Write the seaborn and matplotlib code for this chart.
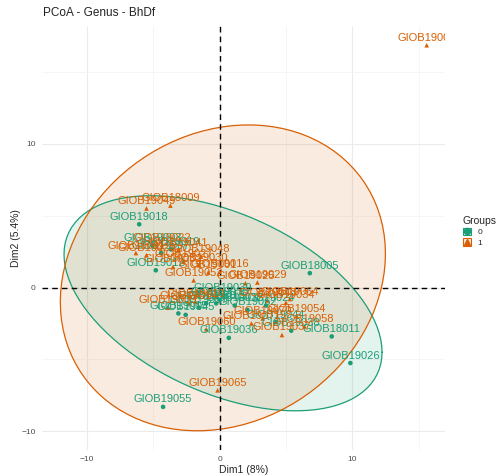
import numpy as np
import pandas as pd
import matplotlib
matplotlib.use("Agg")
import matplotlib.pyplot as plt
import matplotlib.transforms as mtrans
from matplotlib.patches import Patch
from matplotlib.lines import Line2D
from matplotlib.legend_handler import HandlerTuple
from matplotlib.colors import to_rgba
import seaborn as sns

# ---------------- data ----------------
names_g0 = ["GIOB19018", "GIOB18005", "GIOB18011", "GIOB19026", "GIOB19055",
            "GIOB19036", "GIOB19038", "GIOB19044", "GIOB19024", "GIOB19033",
            "GIOB19045", "GIOB19057", "GIOB19035", "GIOB19039", "GIOB19013",
            "GIOB19050", "GIOB19015", "GIOB19062", "GIOB19003", "GIOB19007",
            "GIOB19012", "GIOB19019"]
dim1_g0 = [-6.05, 6.8, 8.45, 9.85, -4.25, 0.7, 5.4, 4.25, 3.5, 1.15,
           -2.55, -1.55, 0.0, 0.25, -0.25, -1.0, -3.1, 2.1, -5.05, -4.4,
           -4.8, -3.65]
dim2_g0 = [4.4, 1.0, -3.4, -5.25, -8.3, -3.5, -3.0, -2.4, -1.25, -1.25,
           -1.9, -1.4, -0.85, -0.55, -1.1, -1.1, -1.8, -1.55, 2.9, 2.4,
           1.2, 2.65]

names_g1 = ["GIOB19006", "GIOB18009", "GIOB19049", "GIOB19022", "GIOB19041",
            "GIOB19048", "GIOB19020", "GIOB19027", "GIOB19030", "GIOB19001",
            "GIOB19052", "GIOB19025", "GIOB19029", "GIOB19016", "GIOB19032",
            "GIOB19010", "GIOB19060", "GIOB19065", "GIOB19034", "GIOB19070",
            "GIOB19037", "GIOB19054", "GIOB19014", "GIOB19009", "GIOB19064",
            "GIOB19043", "GIOB19071", "GIOB19058", "GIOB19011"]
dim1_g1 = [15.6, -3.7, -5.5, -4.35, -3.1, -1.4, -5.5, -2.7, -1.55, -0.85,
           -1.95, 1.95, 2.85, 0.0, -3.5, -1.8, -1.0, -0.15, 5.0, 3.25,
           4.7, 5.8, -2.3, -3.9, 5.3, 3.6, 2.4, 6.4, -6.3]
dim2_g1 = [16.85, 5.7, 5.5, 2.95, 2.6, 2.15, 2.25, 1.8, 1.55, 1.05,
           0.5, 0.3, 0.35, 1.1, 1.45, -1.0, -2.9, -7.15, -1.05, -2.15,
           -3.3, -2.0, -1.1, -1.4, -0.8, -0.9, -2.5, -2.7, 2.4]

groups = ["0", "1"]
title = "PCoA - Genus - BhDf"
xlabel = "Dim1 (8%)"
ylabel = "Dim2 (5.4%)"
x_ticks = [-10, 0, 10]
y_ticks = [-10, 0, 10]

palette = {"0": "#1B9E77", "1": "#D95F02"}
markers = {"0": "o", "1": "^"}

df = pd.DataFrame({
    "name": names_g0 + names_g1,
    "Dim1": dim1_g0 + dim1_g1,
    "Dim2": dim2_g0 + dim2_g1,
    "Groups": [groups[0]] * len(names_g0) + [groups[1]] * len(names_g1),
})


def norm_ellipse(x, y, level=0.95, segments=101):
    """Same construction as ggplot2 stat_ellipse(type='norm')."""
    d = np.column_stack([x, y])
    n = len(d)
    center = d.mean(axis=0)
    cov = np.cov(d.T)
    chol = np.linalg.cholesky(cov).T
    dfd = n - 1
    qf = dfd / 2.0 * ((1 - level) ** (-2.0 / dfd) - 1)   # F(2, dfd) quantile
    radius = np.sqrt(2 * qf)
    th = np.linspace(0, 2 * np.pi, segments)
    unit = np.column_stack([np.cos(th), np.sin(th)])
    return center + radius * unit @ chol


# ---------------- figure ----------------
sns.set_style("white")
plt.rcParams["font.family"] = ["Liberation Sans", "DejaVu Sans"]

W, H = 497, 476
fig = plt.figure(figsize=(W / 100, H / 100), dpi=100)
ax = fig.add_axes([42 / W, 1 - 450 / H, 403 / W, 424 / H])

ells = {}
for g in groups:
    sub = df[df.Groups == g]
    ells[g] = norm_ellipse(sub.Dim1.values, sub.Dim2.values)

for g in groups:
    e = ells[g]
    ax.fill(e[:, 0], e[:, 1], color=palette[g], alpha=0.12, lw=0, zorder=1)
    ax.plot(e[:, 0], e[:, 1], color=palette[g], lw=0.9, zorder=2)

# axis limits from data + ellipses with 5% expansion (as ggplot does)
allx = np.concatenate([df.Dim1.values] + [ells[g][:, 0] for g in groups])
ally = np.concatenate([df.Dim2.values] + [ells[g][:, 1] for g in groups])
rx = allx.max() - allx.min()
ry = ally.max() - ally.min()
ax.set_xlim(allx.min() - 0.05 * rx, allx.max() + 0.05 * rx)
ax.set_ylim(ally.min() - 0.05 * ry, ally.max() + 0.05 * ry)

ax.axhline(0, color="black", lw=1.0, ls=(0, (4, 3)), zorder=2.5)
ax.axvline(0, color="black", lw=1.0, ls=(0, (4, 3)), zorder=2.5)

sns.scatterplot(data=df, x="Dim1", y="Dim2", hue="Groups", style="Groups",
                palette=palette, markers=markers, s=11, linewidth=0,
                legend=False, ax=ax, zorder=3)

off = mtrans.offset_copy(ax.transData, fig=fig, x=0, y=1.8, units="points")
for _, r in df.iterrows():
    ax.text(r.Dim1, r.Dim2, r["name"], transform=off, ha="center",
            va="bottom", fontsize=8, color=palette[r.Groups],
            clip_on=True, zorder=4)

# grid like theme_minimal
ax.set_xticks(x_ticks)
ax.set_yticks(y_ticks)
ax.set_xticks([-5, 5, 15], minor=True)
ax.set_yticks([-5, 5, 15], minor=True)
ax.grid(which="major", color="#EBEBEB", lw=0.8, zorder=0)
ax.grid(which="minor", color="#F3F3F3", lw=0.5, zorder=0)
ax.set_axisbelow(True)
for s in ax.spines.values():
    s.set_visible(False)
ax.tick_params(which="major", length=2.5, width=0.8, color="#333333",
               labelsize=6, labelcolor="#4D4D4D", pad=2)
ax.tick_params(which="minor", length=0)
ax.set_xlabel(xlabel, fontsize=7.5, labelpad=1.5)
ax.set_ylabel(ylabel, fontsize=7.5, labelpad=0)

fig.text(43 / W, 1 - 13 / H, title, fontsize=8.5, color="#222222",
         va="center", ha="left")

handles = []
for g in groups:
    p = Patch(facecolor=to_rgba(palette[g], 0.15), edgecolor=palette[g], lw=0.8)
    m = Line2D([], [], ls="", marker=markers[g], color=palette[g],
               markersize=4.5)
    handles.append((p, m))
leg = fig.legend(handles, groups, title="Groups",
                 handler_map={tuple: HandlerTuple(ndivide=1)},
                 loc="upper left", bbox_to_anchor=(455 / W, 1 - 208 / H),
                 frameon=False, handlelength=1.0, handleheight=1.0,
                 handletextpad=0.8, labelspacing=0.25, fontsize=6,
                 title_fontsize=7.5, alignment="left")

fig.savefig("out.png", dpi=100, facecolor="white")
